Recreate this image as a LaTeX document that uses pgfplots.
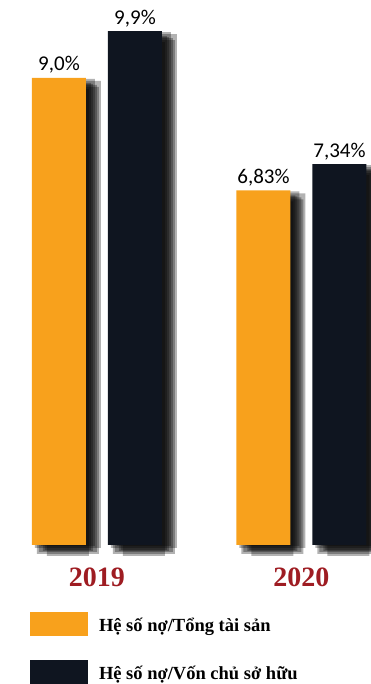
\documentclass[border=0pt]{standalone}
\usepackage{fontspec}
\setmainfont{Liberation Serif}
\newfontfamily\numfont{Carlito}
\usepackage{pgfplots}
\pgfplotsset{compat=1.18}
\definecolor{barorange}{HTML}{F8A11C}
\definecolor{bardark}{HTML}{0F1520}
\definecolor{yearred}{HTML}{9E1C22}
\pgfplotsset{
  shad/.style={fill=black, draw=none, fill opacity=0.3, forget plot},
  lab/.style={point meta=explicit symbolic, nodes near coords,
    nodes near coords style={anchor=base, yshift=7pt, inner sep=0pt, font=\numfont\fontsize{21}{21}\selectfont, text=black, fill opacity=1}},
}
\begin{document}
\begin{tikzpicture}
\path[use as bounding box] (0,0) rectangle (370pt,684pt);
\begin{axis}[
 at={(0pt,139pt)}, anchor=south west,
 scale only axis, width=370pt, height=545pt,
 xmin=-0.4743, xmax=1.3350, ymin=0, ymax=10.50,
 ybar, bar width=54pt,
 axis line style={draw=none}, tick style={draw=none},
 ytick=\empty, xtick={0,1}, xticklabels={2019,2020},
 xticklabel style={anchor=base, yshift=-37pt, font=\fontsize{28}{28}\selectfont\bfseries, text=yearred, inner sep=0pt},
 clip=false,
 legend style={at={(0.08108,-0.12294)}, anchor=north west, draw=none, fill=none, inner sep=0pt, outer sep=0pt, row sep=24pt, column sep=9pt, cells={anchor=base west, inner sep=0pt}, font=\fontsize{18.5}{18.5}\selectfont\bfseries},
]
% shadows of orange bars
\addplot[shad, bar shift=-29pt, bar width=54pt, yshift=-1pt] coordinates {(0,9.0) (1,6.83)};
\addplot[shad, bar shift=-29pt, bar width=66pt, yshift=-3pt] coordinates {(0,9.0) (1,6.83)};
\addplot[shad, bar shift=-29pt, bar width=46pt, yshift=-5pt] coordinates {(0,9.0) (1,6.83)};
\addplot[shad, bar shift=-29pt, bar width=58pt, yshift=-7pt] coordinates {(0,9.0) (1,6.83)};
\addplot[shad, bar shift=-29pt, bar width=62pt, yshift=-9pt] coordinates {(0,9.0) (1,6.83)};
\addplot[shad, bar shift=-29pt, bar width=42pt, yshift=-11pt] coordinates {(0,9.0) (1,6.83)};
\addplot[shad, bar shift=-29pt, bar width=50pt, yshift=-6pt] coordinates {(0,9.0) (1,6.83)};
\addplot[fill=barorange, draw=none, bar shift=-38pt, lab,
  legend image code/.code={\fill[barorange] (0pt,-5pt) rectangle (58pt,19pt);}]
  coordinates {(0,9.0) [9,0\%] (1,6.83) [6,83\%]};
% shadows of dark bars
\addplot[shad, bar shift=47pt, bar width=54pt, yshift=-1pt] coordinates {(0,9.9) (1,7.34)};
\addplot[shad, bar shift=47pt, bar width=66pt, yshift=-3pt] coordinates {(0,9.9) (1,7.34)};
\addplot[shad, bar shift=47pt, bar width=46pt, yshift=-5pt] coordinates {(0,9.9) (1,7.34)};
\addplot[shad, bar shift=47pt, bar width=58pt, yshift=-7pt] coordinates {(0,9.9) (1,7.34)};
\addplot[shad, bar shift=47pt, bar width=62pt, yshift=-9pt] coordinates {(0,9.9) (1,7.34)};
\addplot[shad, bar shift=47pt, bar width=42pt, yshift=-11pt] coordinates {(0,9.9) (1,7.34)};
\addplot[shad, bar shift=47pt, bar width=50pt, yshift=-6pt] coordinates {(0,9.9) (1,7.34)};
\addplot[fill=bardark, draw=none, bar shift=38pt, lab,
  legend image code/.code={\fill[bardark] (0pt,-5pt) rectangle (58pt,19pt);}]
  coordinates {(0,9.9) [9,9\%] (1,7.34) [7,34\%]};
\legend{Hệ số nợ/Tổng tài sản, Hệ số nợ/Vốn chủ sở hữu}
\end{axis}
\end{tikzpicture}
\end{document}
